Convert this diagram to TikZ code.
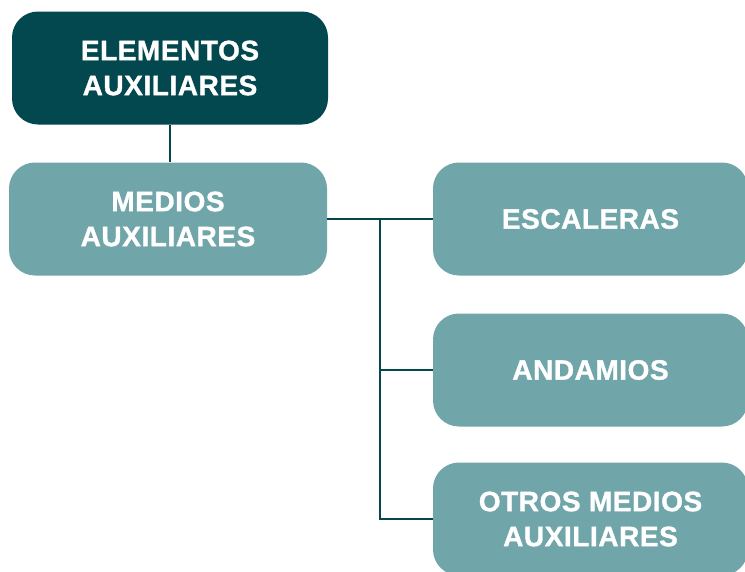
\documentclass[tikz,border=0pt]{standalone}
\usepackage{fontspec}
\setmainfont[LetterSpace=2,BoldFeatures={FakeBold=1.2}]{Liberation Sans}
\usetikzlibrary{calc}
\usepackage{xcolor}
\definecolor{oscuro}{RGB}{3,71,79}
\definecolor{claro}{RGB}{112,165,170}

\begin{document}
\begin{tikzpicture} [x=1pt,y=1pt,
  caja/.style={rounded corners=26pt,minimum height=113pt,align=center,text=white,
    font=\fontsize{28}{35}\selectfont\bfseries,inner sep=0pt},
  linea/.style={oscuro,line width=1.8pt}]
\useasboundingbox (0,0) rectangle (745,-571);
\node[caja,fill=oscuro,minimum width=316pt] (elementos) at (170,-68) {ELEMENTOS\\AUXILIARES};
\node[caja,fill=claro,minimum width=318pt] (medios) at (168,-219) {MEDIOS\\AUXILIARES};
\node[caja,fill=claro,minimum width=315pt] (escaleras) at (590.5,-219) {ESCALERAS};
\node[caja,fill=claro,minimum width=315pt] (andamios) at (590.5,-370) {ANDAMIOS};
\node[caja,fill=claro,minimum width=315pt] (otros) at (590.5,-519) {OTROS MEDIOS\\AUXILIARES};
\coordinate (trunk) at ($(medios.east)!0.5!(escaleras.west)$);
% conectores
\draw[linea] (elementos.south) -- (elementos.south |- medios.north);
\draw[linea] (medios.east) -- (escaleras.west);
\foreach \n in {andamios,otros} {
 \draw[linea] (trunk) |- (\n.west);
 }
\end{tikzpicture}
\end{document}
